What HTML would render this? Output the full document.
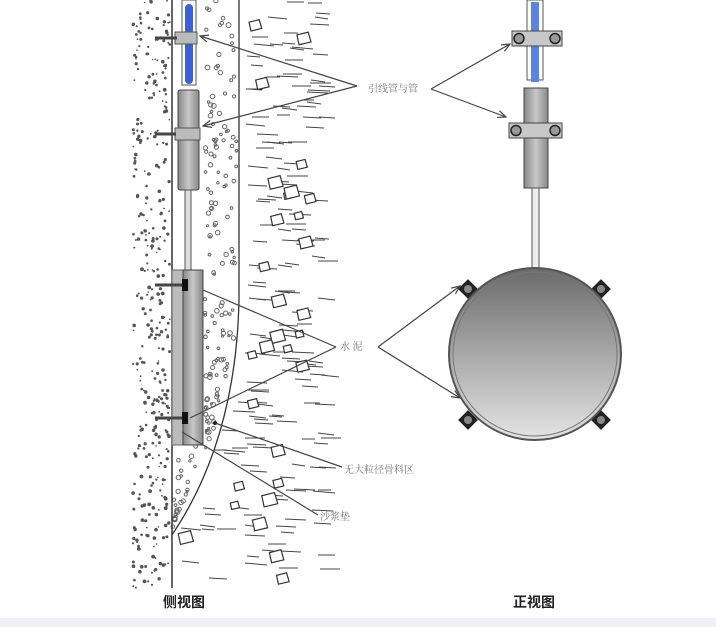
<!DOCTYPE html>
<html><head><meta charset="utf-8"><style>
html,body{margin:0;padding:0;background:#fff;width:716px;height:627px;overflow:hidden}
text{font-family:"Liberation Serif","Noto Serif CJK SC",serif}
</style></head><body>
<svg id="s" width="716" height="627" viewBox="0 0 716 627" xmlns="http://www.w3.org/2000/svg">
<defs>
<linearGradient id="cg" x1="0" y1="0" x2="0" y2="1"><stop offset="0" stop-color="#6a6a6a"/><stop offset="0.5" stop-color="#a8a8a8"/><stop offset="1" stop-color="#e4e4e4"/></linearGradient>
<linearGradient id="cyl" x1="0" y1="0" x2="1" y2="0"><stop offset="0" stop-color="#888"/><stop offset="0.5" stop-color="#c8c8c8"/><stop offset="1" stop-color="#888"/></linearGradient>
<marker id="ar" markerWidth="8" markerHeight="8" refX="7" refY="4" orient="auto"><path d="M0,1 L7,4 L0,7" fill="none" stroke="#444" stroke-width="1"/></marker>
</defs>
<rect x="0" y="618" width="716" height="9" fill="#eef2f6"/>
<g id="dots"></g>
<line x1="172" y1="0" x2="172" y2="588" stroke="#333" stroke-width="1.5"/>
<path d="M239,0 L239,300 Q236,440 172,535" fill="none" stroke="#333" stroke-width="1.3"/>
<rect x="182" y="0" width="14" height="85" fill="#fff" stroke="#555"/>
<rect x="185" y="4" width="8" height="80" rx="4" fill="#3b63d6"/>
<rect x="175" y="32" width="22" height="12" fill="#bbb" stroke="#555"/>
<line x1="155" y1="38" x2="177" y2="38" stroke="#444" stroke-width="3"/>
<rect x="178" y="90" width="21" height="100" rx="2" fill="url(#cyl)" stroke="#444"/>
<rect x="175" y="128" width="25" height="12" fill="#bbb" stroke="#555"/>
<line x1="155" y1="134" x2="176" y2="134" stroke="#444" stroke-width="3"/>
<rect x="185" y="190" width="6" height="82" fill="#ddd" stroke="#555"/>
<rect x="172" y="270" width="11" height="175" fill="#bbb" stroke="#666"/>
<rect x="183" y="270" width="20" height="175" fill="url(#cyl)" stroke="#444"/>
<line x1="155" y1="285" x2="183" y2="285" stroke="#444" stroke-width="3"/>
<rect x="182" y="279" width="6" height="12" fill="#111"/>
<line x1="155" y1="418" x2="183" y2="418" stroke="#444" stroke-width="3"/>
<rect x="182" y="412" width="6" height="12" fill="#111"/>
<g stroke="#444" stroke-width="1.2" fill="none">
<line x1="357" y1="86" x2="200" y2="36" marker-end="url(#ar)"/>
<line x1="357" y1="86" x2="203" y2="126" marker-end="url(#ar)"/>
<line x1="431" y1="89" x2="510" y2="44" marker-end="url(#ar)"/>
<line x1="431" y1="89" x2="506" y2="117" marker-end="url(#ar)"/>
<line x1="336" y1="347" x2="203" y2="290"/>
<line x1="336" y1="347" x2="190" y2="418"/>
<line x1="378" y1="347" x2="460" y2="286" marker-end="url(#ar)"/>
<line x1="378" y1="347" x2="460" y2="398" marker-end="url(#ar)"/>
<line x1="215" y1="423" x2="342" y2="467"/>
<line x1="182" y1="432" x2="318" y2="515"/>
</g>
<circle cx="215" cy="423" r="2" fill="#222"/>
<text x="368" y="92" font-size="10" fill="#777">引线管与管</text>
<text x="340" y="350" font-size="10" fill="#777">水 泥</text>
<text x="344" y="473" font-size="10" fill="#777">无大粒径骨料区</text>
<text x="320" y="520" font-size="10" fill="#777">沙浆垫</text>
<text x="163" y="607" font-size="14" font-weight="bold" fill="#222" style="font-family:'Liberation Sans','Noto Sans CJK SC',sans-serif">侧视图</text>
<text x="513" y="607" font-size="14" font-weight="bold" fill="#222" style="font-family:'Liberation Sans','Noto Sans CJK SC',sans-serif">正视图</text>
<rect x="527" y="0" width="16" height="80" fill="#fff" stroke="#555"/>
<rect x="531" y="2" width="8" height="80" fill="#5b84e0"/>
<rect x="512" y="31" width="50" height="15" fill="#c8c8c8" stroke="#444"/>
<circle cx="519" cy="38.5" r="5" fill="#999" stroke="#222" stroke-width="1.5"/>
<circle cx="555" cy="38.5" r="5" fill="#999" stroke="#222" stroke-width="1.5"/>
<rect x="524" y="88" width="24" height="100" fill="url(#cyl)" stroke="#444"/>
<rect x="509" y="123" width="53" height="15" fill="#c8c8c8" stroke="#444"/>
<circle cx="516" cy="130.5" r="5" fill="#999" stroke="#222" stroke-width="1.5"/>
<circle cx="555" cy="130.5" r="5" fill="#999" stroke="#222" stroke-width="1.5"/>
<rect x="532" y="188" width="7" height="82" fill="#eee" stroke="#555"/>
<g fill="#222"><rect x="461" y="282" width="14" height="14" transform="rotate(45 468 289)"/><rect x="594" y="282" width="14" height="14" transform="rotate(45 601 289)"/><rect x="461" y="413" width="14" height="14" transform="rotate(45 468 420)"/><rect x="594" y="413" width="14" height="14" transform="rotate(45 601 420)"/></g>
<g fill="#888"><circle cx="468" cy="289" r="4"/><circle cx="601" cy="289" r="4"/><circle cx="468" cy="420" r="4"/><circle cx="601" cy="420" r="4"/></g>
<circle cx="535" cy="354" r="86" fill="url(#cg)" stroke="#555" stroke-width="2"/>
<circle cx="535" cy="354" r="82" fill="none" stroke="#777" stroke-width="1"/>
</svg>
<script>
var g=document.getElementById('dots'),s=7,h='';
function r(){s=(s*16807)%2147483647;return s/2147483647;}
function bx(y){if(y<300)return 239;var t=(y-300)/235;return 239-67*t*t*0.9-10*t;}
for(var i=0;i<380;i++){var x=133+r()*37,y=r()*590;h+='<circle cx="'+x.toFixed(1)+'" cy="'+y.toFixed(1)+'" r="'+(0.8+r()*1.1).toFixed(1)+'" fill="#555"/>';}
for(var i=0;i<170;i++){var y=r()*530,xm=bx(y);var x=205+r()*(xm-207);if(y>440)x=174+r()*(xm-176);if(y>270&&y<445&&x<205)continue;h+='<circle cx="'+x.toFixed(1)+'" cy="'+y.toFixed(1)+'" r="'+(1+r()*1.4).toFixed(1)+'" fill="none" stroke="#666"/>';}
for(var i=0;i<170;i++){var y=r()*580,x0=(y<535?bx(y):172)+5;var x=x0+r()*(322-x0);h+='<line x1="'+x.toFixed(0)+'" y1="'+y.toFixed(0)+'" x2="'+(x+12+r()*10).toFixed(0)+'" y2="'+(y+r()*2).toFixed(0)+'" stroke="#444" stroke-width="1"/>';}
for(var i=0;i<30;i++){var y=20+r()*560,x0=(y<535?bx(y):172)+8;var x=x0+r()*(305-x0);var a=4+r()*4;h+='<polygon points="'+x+','+y+' '+(x+a*1.6)+','+(y-a*0.4)+' '+(x+a*2)+','+(y+a)+' '+(x+a*0.3)+','+(y+a*1.4)+'" fill="#fff" stroke="#333" stroke-width="1.2"/>';}
g.innerHTML=h;
</script>
</body></html>
